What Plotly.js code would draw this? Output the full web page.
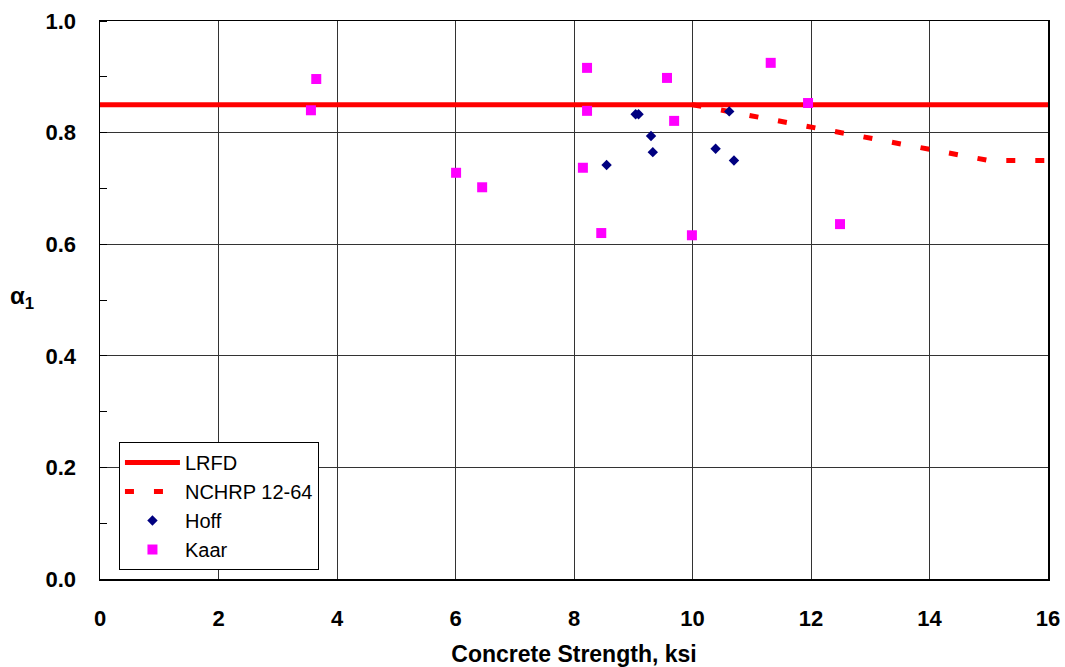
<!DOCTYPE html>
<html>
<head>
<meta charset="utf-8">
<script src="https://cdn.plot.ly/plotly-3.0.1.min.js"></script>
<style>html,body{margin:0;padding:0;background:#fff;}#chart{width:1065px;height:667px;}</style>
</head>
<body>
<div id="chart"></div>
<script>
// LRFD design value
const lrfdX = [0, 16];
const lrfdY = [0.85, 0.85];
// NCHRP 12-64 proposal
const nchrpX = [10, 15, 16];
const nchrpY = [0.85, 0.75, 0.75];
// Hoff test data
const hoffX = [9.04, 9.09, 9.30, 9.33, 8.55, 10.62, 10.39, 10.70];
const hoffY = [0.833, 0.833, 0.794, 0.765, 0.742, 0.838, 0.771, 0.750];
// Kaar test data
const kaarX = [3.65, 3.56, 6.01, 6.45, 8.15, 8.22, 8.22, 8.46, 9.57, 9.69, 9.99, 11.32, 11.95, 12.49];
const kaarY = [0.896, 0.840, 0.728, 0.702, 0.737, 0.916, 0.839, 0.620, 0.898, 0.821, 0.616, 0.925, 0.853, 0.636];
// Axis ticks
const xTicks = [0, 2, 4, 6, 8, 10, 12, 14, 16];
const xTickText = ['0', '2', '4', '6', '8', '10', '12', '14', '16'];
const yTicks = [0, 0.2, 0.4, 0.6, 0.8, 1.0];
const yTickText = ['0.0', '0.2', '0.4', '0.6', '0.8', '1.0'];

const traces = [
  {x: lrfdX, y: lrfdY, name: 'LRFD', mode: 'lines', type: 'scatter',
   line: {color: '#FF0000', width: 5}},
  {x: nchrpX, y: nchrpY, name: 'NCHRP 12-64', mode: 'lines', type: 'scatter',
   line: {color: '#FF0000', width: 5, dash: '9px,20px'}},
  {x: hoffX, y: hoffY, name: 'Hoff', mode: 'markers', type: 'scatter',
   marker: {symbol: 'diamond', color: '#000080', size: 8}},
  {x: kaarX, y: kaarY, name: 'Kaar', mode: 'markers', type: 'scatter',
   marker: {symbol: 'square', color: '#FF00FF', size: 10}}
];

const layout = {
  width: 1065, height: 667,
  margin: {l: 100, r: 17, t: 21, b: 88},
  paper_bgcolor: '#fff', plot_bgcolor: '#fff',
  font: {family: 'Liberation Sans, Arial, sans-serif', color: '#000'},
  showlegend: true,
  legend: {
    x: 0.02, y: 0.2455, xanchor: 'left', yanchor: 'top',
    bgcolor: '#fff', bordercolor: '#000', borderwidth: 1,
    font: {size: 20, color: '#000'}, tracegroupgap: 0, itemwidth: 55
  },
  xaxis: {
    range: [0, 16], tickvals: xTicks, ticktext: xTickText,
    showgrid: true, gridcolor: '#333', gridwidth: 1,
    showline: true, mirror: true, linecolor: '#000', linewidth: 1.5,
    zeroline: false, ticks: '', ticklabelstandoff: 19,
    tickfont: {size: 22, family: 'Liberation Sans, Arial, sans-serif', weight: 'bold'},
    title: {text: '<b>Concrete Strength, ksi</b>', font: {size: 23}, standoff: 18},
    automargin: false
  },
  yaxis: {
    range: [0, 1.0], tickvals: yTicks, ticktext: yTickText,
    showgrid: true, gridcolor: '#333', gridwidth: 1,
    showline: true, mirror: true, linecolor: '#000', linewidth: 1.5,
    zeroline: false, ticks: '', ticklabelstandoff: 18,
    minor: {dtick: 0.1, ticks: 'inside', ticklen: 7, tickcolor: '#000', showgrid: false},
    tickfont: {size: 22, family: 'Liberation Sans, Arial, sans-serif', weight: 'bold'},
    automargin: false
  },
  annotations: [{
    text: '<b>α<sub>1</sub></b>', xref: 'paper', yref: 'paper',
    x: -0.082, y: 0.505, xanchor: 'center', yanchor: 'middle',
    showarrow: false, font: {size: 24, color: '#000'}
  }]
};

Plotly.newPlot('chart', traces, layout, {displayModeBar: false, staticPlot: true});
</script>
</body>
</html>
